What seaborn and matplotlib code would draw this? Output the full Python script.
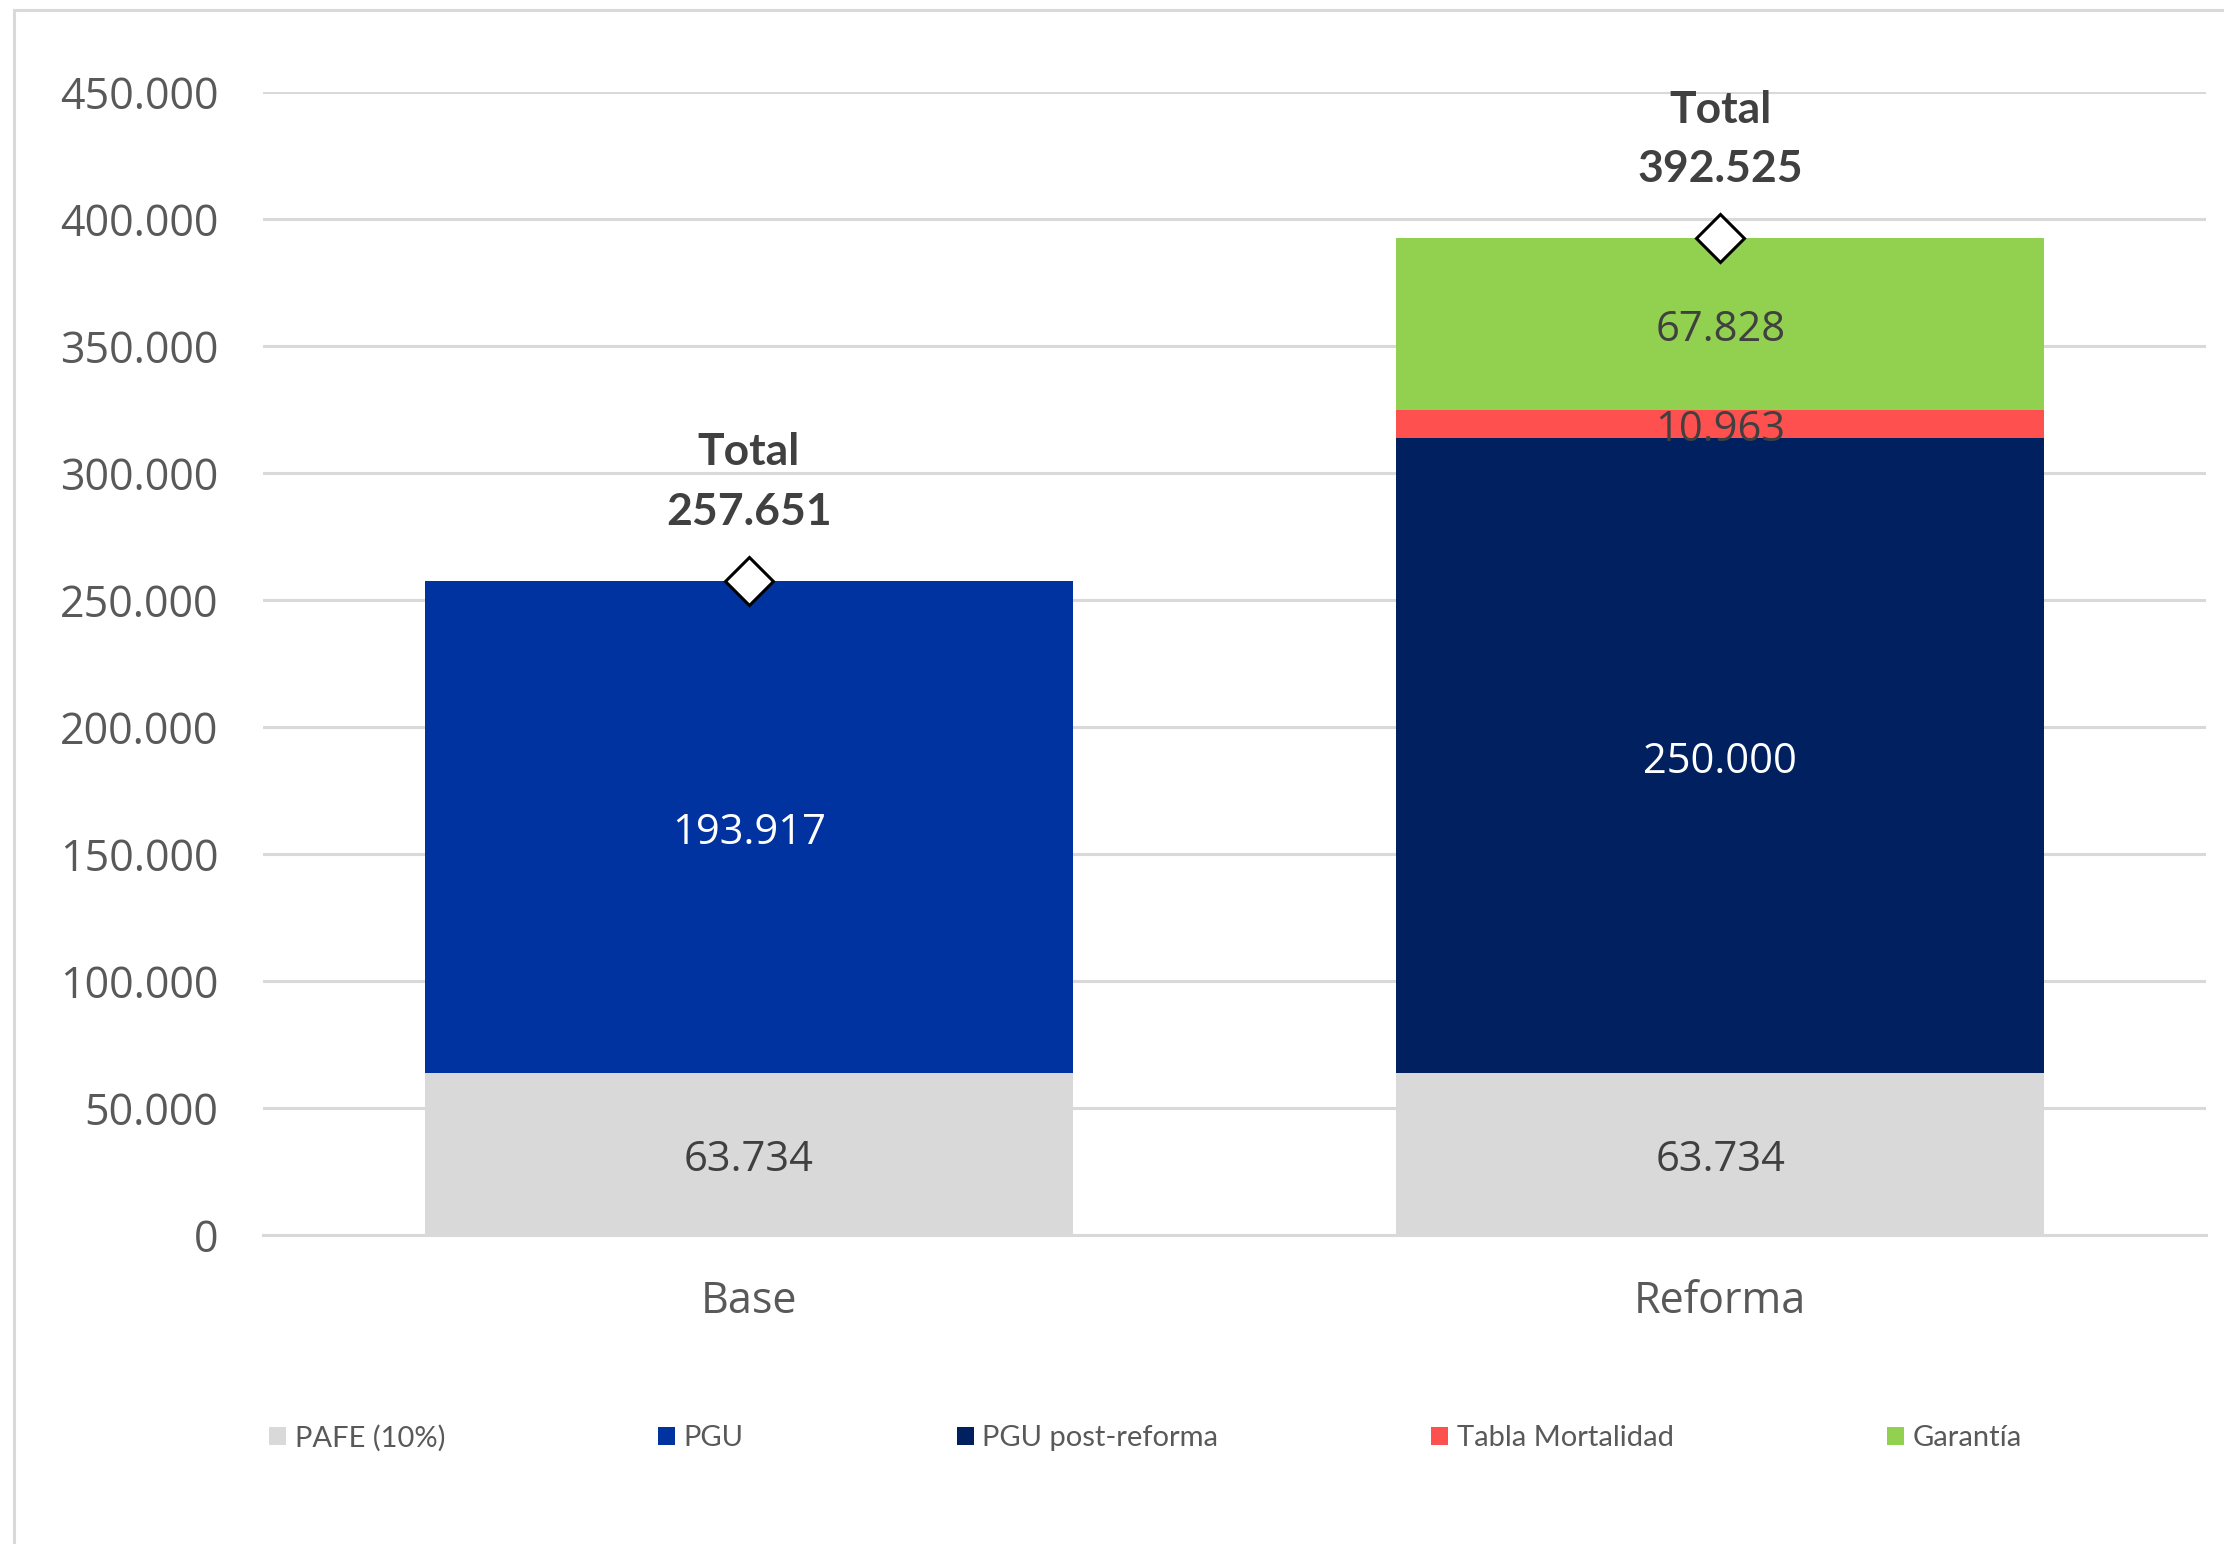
import numpy as np
import pandas as pd
import matplotlib
matplotlib.use("Agg")
import matplotlib.pyplot as plt
from matplotlib.patches import Patch, Rectangle
import seaborn as sns

# ---- data ----
categories = ["Base", "Reforma"]
series_names = ["PAFE (10%)", "PGU", "PGU post-reforma", "Tabla Mortalidad", "Garantía"]
pafe = [63734, 63734]
pgu = [193917, 0]
pgu_post = [0, 250000]
tabla_mort = [0, 10963]
garantia = [0, 67828]
totals = [257651, 392525]
y_ticks = [0, 50000, 100000, 150000, 200000, 250000, 300000, 350000, 400000, 450000]

series_values = [pafe, pgu, pgu_post, tabla_mort, garantia]
colors = ["#D9D9D9", "#0033A0", "#002060", "#FF5050", "#92D050"]
label_colors = ["#404040", "white", "white", "#404040", "#404040"]


def fmt(v):
    return f"{v:,.0f}".replace(",", ".")


sns.set_theme(style="white")
plt.rcParams["font.family"] = ["Open Sans", "DejaVu Sans"]

fig = plt.figure(figsize=(11.12, 7.72), dpi=200)
ax = fig.add_axes([263 / 2224, 1 - 1235 / 1544, (2206 - 263) / 2224, (1235 - 92) / 1544])

bottoms = np.zeros(len(categories))
for name, vals, col, lc in zip(series_names, series_values, colors, label_colors):
    df = pd.DataFrame({"cat": categories, "val": vals})
    sns.barplot(data=df, x="cat", y="val", bottom=bottoms, color=col, saturation=1,
                width=0.667, ax=ax, edgecolor="none", linewidth=0, errorbar=None)
    cont = ax.containers[-1]
    labels = [fmt(v) if v > 0 else "" for v in vals]
    anns = ax.bar_label(cont, labels=labels, label_type="center", color=lc, fontsize=15,
                        fontfamily="Open Sans")
    for a in anns:
        a.xyann = (0, -2.2)
    bottoms = bottoms + np.array(vals)

# total markers
xpos = np.arange(len(categories))
ax.plot(xpos, totals, linestyle="none", marker="D", markersize=12,
        markerfacecolor="white", markeredgecolor="black", markeredgewidth=1.1, zorder=5,
        clip_on=False)
for x, t in zip(xpos, totals):
    ax.annotate(f"Total\n{fmt(t)}", xy=(x, t), xytext=(0, 20), textcoords="offset points",
                ha="center", va="baseline", fontsize=16, fontweight="bold",
                fontfamily="Lato", color="#404040", linespacing=1.6)

ax.set_xlim(-0.5, 1.5)
ax.set_ylim(0, 450000)
ax.set_yticks(y_ticks)
ax.set_yticklabels([fmt(v) for v in y_ticks])
ax.set_xlabel("")
ax.set_ylabel("")
ax.grid(axis="y", color="#D9D9D9", linewidth=1.1)
ax.grid(axis="x", visible=False)
ax.set_axisbelow(True)
for s in ["left", "right", "top"]:
    ax.spines[s].set_visible(False)
ax.spines["bottom"].set_color("#D9D9D9")
ax.spines["bottom"].set_linewidth(1.1)
ax.tick_params(axis="both", length=0, labelsize=15.5, labelcolor="#595959")
ax.tick_params(axis="y", pad=16)
ax.tick_params(axis="x", pad=16)

handles = [Patch(facecolor=c, edgecolor="none", label=n) for c, n in zip(colors, series_names)]
fig.legend(handles=handles, loc="center", bbox_to_anchor=(0.515, 1 - 1438 / 1544), ncol=5,
           frameon=False, prop={"family": "Lato", "size": 10.5}, labelcolor="#595959",
           handlelength=0.58, handleheight=0.58, handletextpad=0.3, columnspacing=7.3)

# chart frame (left and top edges visible)
fig.patches.append(Rectangle((14 / 2224, -1), 2, 1 + 1 - 10 / 1544, transform=fig.transFigure,
                             fill=False, edgecolor="#D9D9D9", linewidth=1.1))

fig.savefig("out.png", dpi=200, facecolor="white")
